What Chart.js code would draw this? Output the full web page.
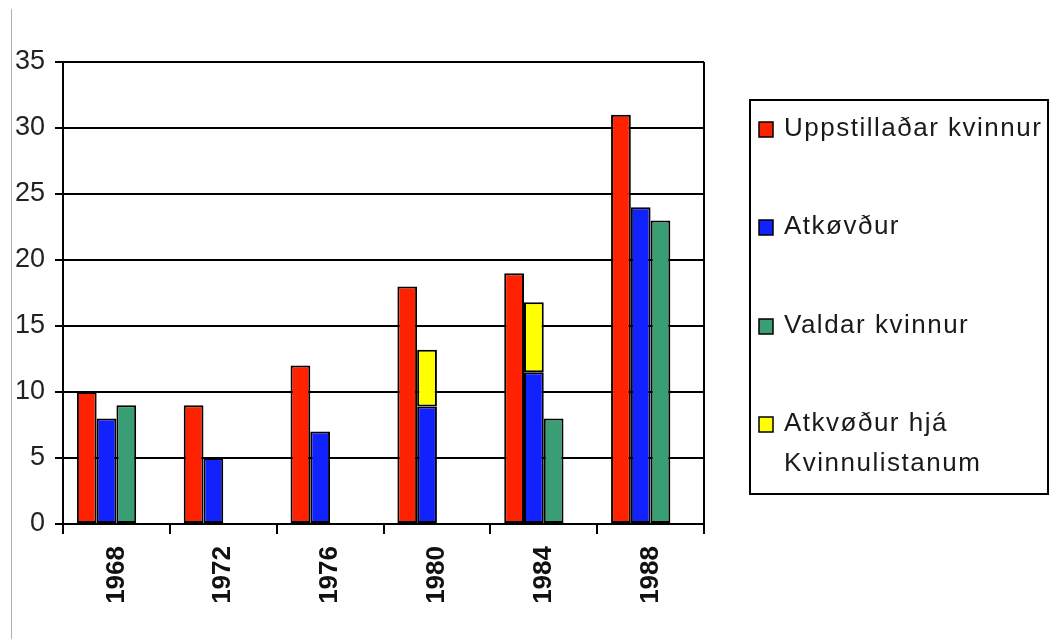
<!DOCTYPE html>
<html>
<head>
<meta charset="utf-8">
<script src="https://cdn.jsdelivr.net/npm/chart.js@4/dist/chart.umd.min.js"></script>
<style>
  html, body { margin: 0; padding: 0; background: #fff; }
  #wrap { width: 1056px; height: 639px; position: relative; }
</style>
</head>
<body>
<div id="wrap"><canvas id="myChart" width="1056" height="639"></canvas></div>
<script>
let years = ['1968', '1972', '1976', '1980', '1984', '1988'];
let uppstilladar = [10, 9, 12, 18, 19, 31];
let atkovdur = [8, 5, 7, 8.9, 11.5, 24];
let valdar = [9, null, null, null, 8, 23];
let kvinnulistin = [null, null, null, 4.3, 5.3, null];
let yTicks = [0, 5, 10, 15, 20, 25, 30, 35];

let seriesNames = ['Uppstillaðar kvinnur', 'Atkøvður', 'Valdar kvinnur', ['Atkvøður hjá', 'Kvinnulistanum']];
let colorHex = ['#FF2200', '#1122FF', '#3A9E74', '#FFFF00'];

// legend + frame drawn by hand, the box in the original has a wrapped label
let boxLegend = {
  id: 'boxLegend',
  afterDraw(chart) {
    let c = chart.ctx;
    let area = chart.chartArea;
    c.save();
    // thin grey edge on the left of the picture
    c.strokeStyle = '#b0b0b0';
    c.lineWidth = 1;
    c.beginPath();
    c.moveTo(11.5, 9);
    c.lineTo(11.5, 639);
    c.stroke();
    // right border of the plot
    c.strokeStyle = '#000';
    c.lineWidth = 2;
    c.beginPath();
    c.moveTo(area.right, area.top);
    c.lineTo(area.right, area.bottom + 10);
    c.stroke();

    let left = area.right + 46;
    let top = 100;
    c.lineWidth = 2;
    c.strokeRect(left, top, 298, 394);
    let rows = [129, 227, 326, 424];
    c.font = '26px "Liberation Sans", Arial, sans-serif';
    c.letterSpacing = '1.5px';
    c.textBaseline = 'middle';
    chart.data.datasets.filter(ds => !ds.spacer).forEach((ds, i) => {
      let y = rows[i];
      c.fillStyle = ds.backgroundColor;
      c.fillRect(left + 9, y - 7, 14, 15);
      c.lineWidth = 1.5;
      c.strokeStyle = '#000';
      c.strokeRect(left + 9, y - 7, 14, 15);
      c.fillStyle = '#1a1a1a';
      let lines = [].concat(seriesNames[i]);
      lines.forEach((t, k) => c.fillText(t, left + 34, y + k * 40));
    });
    c.restore();
  }
};

let ctx = document.getElementById('myChart').getContext('2d');
let myChart = new Chart(ctx, {
  type: 'bar',
  data: {
    labels: years,
    datasets: [
      { label: 'Uppstillaðar kvinnur', data: uppstilladar, backgroundColor: colorHex[0], stack: 'a' },
      { label: 'Atkøvður', data: atkovdur, backgroundColor: colorHex[1], stack: 'b' },
      { label: 'Valdar kvinnur', data: valdar, backgroundColor: colorHex[2], stack: 'c' },
      { label: 'Atkvøður hjá Kvinnulistanum', data: kvinnulistin, backgroundColor: colorHex[3], stack: 'b' },
      // empty slot so the bar groups sit left of the category centre, as in the original
      { label: '', data: years.map(() => null), stack: 'd', spacer: true }
    ]
  },
  options: {
    responsive: false,
    animation: false,
    layout: { padding: { left: 0, top: 62, right: 352, bottom: 0 } },
    datasets: {
      bar: {
        borderColor: '#000',
        borderWidth: 2,
        borderSkipped: false,
        categoryPercentage: 0.74,
        barPercentage: 1.0
      }
    },
    plugins: {
      legend: { display: false },
      tooltip: { enabled: false }
    },
    scales: {
      x: {
        stacked: true,
        grid: {
          offset: true,
          drawOnChartArea: false,
          color: '#000',
          lineWidth: 2,
          tickLength: 10
        },
        border: { color: '#000', width: 2 },
        ticks: {
          minRotation: 90,
          maxRotation: 90,
          padding: 12,
          color: '#111',
          font: { family: '"Liberation Sans", Arial, sans-serif', size: 26, weight: 'bold' }
        },
        afterFit: (scale) => { scale.height = 115; }
      },
      y: {
        stacked: true,
        min: 0,
        max: 35,
        afterBuildTicks: (scale) => { scale.ticks = yTicks.map(v => ({ value: v })); },
        grid: {
          color: '#000',
          lineWidth: 2,
          tickLength: 8
        },
        border: { color: '#000', width: 2 },
        ticks: {
          padding: 10,
          color: '#222',
          font: { family: '"Liberation Sans", Arial, sans-serif', size: 27 }
        },
        afterFit: (scale) => { scale.width = 63; }
      }
    }
  },
  plugins: [boxLegend]
});
</script>
</body>
</html>
